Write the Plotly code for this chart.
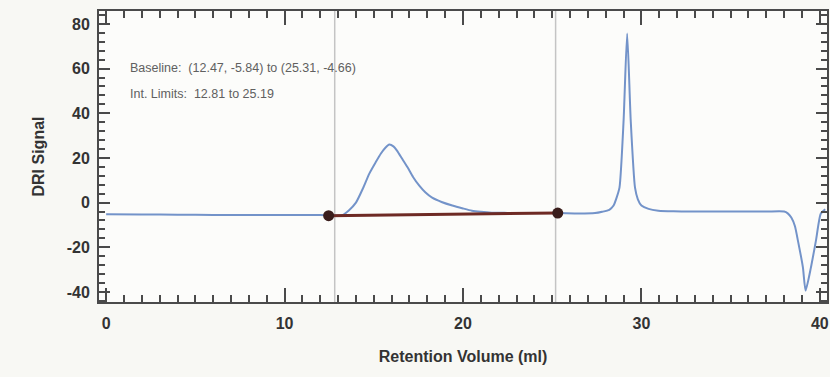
import plotly.graph_objects as go

# Chromatogram trace
vol = [0, 2, 4, 6, 8, 10, 12, 12.8, 13.24, 13.6, 14.0, 14.4, 14.75, 15.1, 15.4, 15.65, 15.87,
       16.1, 16.3, 16.6, 16.9, 17.2, 17.55, 17.9, 18.27, 18.8, 19.4, 20.0, 20.5, 21.0, 21.6, 22.5,
       24, 25.3, 26.5, 27.4, 27.8, 28.2, 28.44, 28.6, 28.77, 29.0, 29.2, 29.4, 29.64, 29.8, 30.0,
       30.4, 30.95, 31.8, 33, 35, 37, 38.0, 38.2, 38.4, 38.6, 38.77, 39.05, 39.2, 39.5, 39.78, 40.05,
       40.3]
dri = [-5.2, -5.3, -5.4, -5.5, -5.5, -5.5, -5.6, -5.7, -5.6, -3.5, 0, 6.5, 13, 18, 22, 24.6, 26,
       25.2, 23.3, 19.5, 15.7, 11.5, 7.6, 4.5, 2.2, 0.3, -1.3, -2.6, -3.6, -4.1, -4.5, -4.6,
       -4.7, -4.7, -4.9, -4.7, -4.1, -3.2, -1.3, 2, 6.7, 36.7, 75.7, 36.7, 6.7, 1.5, -1.3,
       -2.8, -3.6, -3.9, -4.0, -4.0, -4.0, -4.0, -4.8, -6.7, -10.5, -17, -29, -39.4, -29, -17, -5,
       -3]

baseline_x = [12.47, 25.31]
baseline_y = [-5.84, -4.66]
int_limits = [12.81, 25.19]

x_ticks = [0, 10, 20, 30, 40]
y_ticks = [-40, -20, 0, 20, 40, 60, 80]

ax_col = "#4a4a4a"
font = "Liberation Sans, Arial, sans-serif"

fig = go.Figure()

for xv in int_limits:
    fig.add_trace(go.Scatter(x=[xv, xv], y=[-44.5, 85.8], mode="lines",
                             line=dict(color="#c4c4c4", width=1.5),
                             showlegend=False, hoverinfo="skip"))

fig.add_trace(go.Scatter(x=vol, y=dri, mode="lines",
                         line=dict(color="#7393c9", width=2, shape="spline", smoothing=0.6),
                         showlegend=False))

fig.add_trace(go.Scatter(x=baseline_x, y=baseline_y, mode="lines+markers",
                         line=dict(color="#6e2a24", width=3),
                         marker=dict(color="#3a1d1b", size=11),
                         showlegend=False))

fig.add_annotation(x=1.2, y=60.5, xref="x", yref="y", xanchor="left", yanchor="middle",
                   text="Baseline:  (12.47, -5.84) to (25.31, -4.66)", showarrow=False,
                   font=dict(family=font, size=12.5, color="#606060"))
fig.add_annotation(x=1.2, y=48.5, xref="x", yref="y", xanchor="left", yanchor="middle",
                   text="Int. Limits:  12.81 to 25.19", showarrow=False,
                   font=dict(family=font, size=12.5, color="#606060"))

fig.update_layout(
    width=830, height=377,
    margin=dict(l=99, r=1, t=11, b=75),
    paper_bgcolor="#f8f8f4", plot_bgcolor="#fcfcfa",
    font=dict(family=font, color="#333333"),
)
fig.update_xaxes(
    range=[-0.4, 40.4], tickvals=x_ticks, ticktext=[str(v) for v in x_ticks],
    showgrid=False, zeroline=False,
    showline=True, linecolor=ax_col, linewidth=2, mirror="ticks",
    ticks="inside", ticklen=14, tickwidth=2, tickcolor=ax_col, ticklabelstandoff=6,
    minor=dict(dtick=1, tick0=0, ticks="inside", ticklen=7, tickwidth=1.5, tickcolor=ax_col, showgrid=False),
    tickfont=dict(family=font, size=16, color="#333333", weight="bold"),
    title=dict(text="<b>Retention Volume (ml)</b>", font=dict(family=font, size=16, color="#333333"), standoff=20),
)
fig.update_yaxes(
    range=[-44.5, 85.8], tickvals=y_ticks, ticktext=[str(v) for v in y_ticks],
    showgrid=False, zeroline=False,
    showline=True, linecolor=ax_col, linewidth=2, mirror="ticks",
    ticks="inside", ticklen=11, tickwidth=2, tickcolor=ax_col, ticklabelstandoff=4,
    minor=dict(dtick=4, tick0=0, ticks="inside", ticklen=6, tickwidth=1.5, tickcolor=ax_col, showgrid=False),
    tickfont=dict(family=font, size=16, color="#333333", weight="bold"),
    title=dict(text="<b>DRI Signal</b>", font=dict(family=font, size=16, color="#333333"), standoff=18),
)

fig.write_html("out.html")
